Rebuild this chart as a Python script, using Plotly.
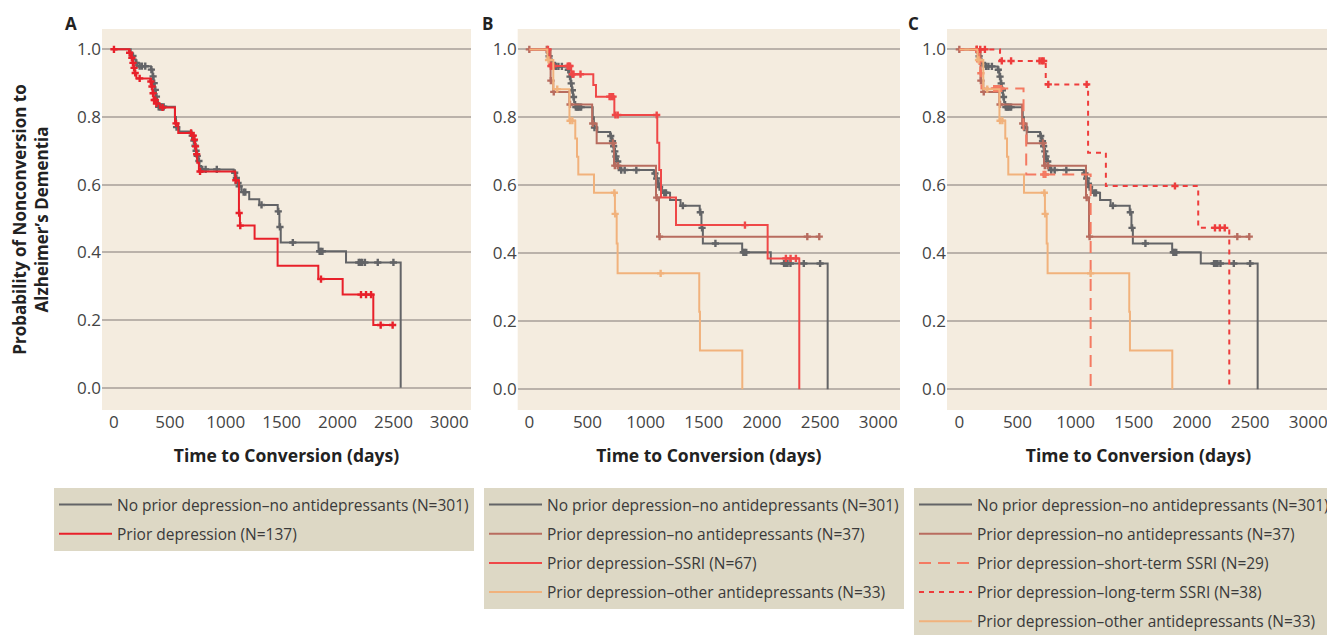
import numpy as np
import plotly.graph_objects as go

# ---------------- data ----------------
X_TICKS = [0, 500, 1000, 1500, 2000, 2500, 3000]
Y_TICKS = [0.0, 0.2, 0.4, 0.6, 0.8, 1.0]
PANEL_LABELS = ["A", "B", "C"]

# No prior depression - no antidepressants (N=301)
grey_t = [0, 150, 165, 180, 195, 210, 330, 345, 355, 365, 375, 385, 395, 545, 555, 585,
          695, 710, 720, 730, 740, 750, 765, 780, 1070, 1085, 1100, 1115, 1140, 1210, 1300,
          1465, 1480, 1492, 1830, 2076, 2565]
grey_s = [1.0, 0.99, 0.98, 0.97, 0.96, 0.95, 0.94, 0.92, 0.90, 0.88, 0.86, 0.845, 0.83, 0.80, 0.77, 0.757,
          0.745, 0.73, 0.715, 0.70, 0.685, 0.67, 0.655, 0.645, 0.635, 0.62, 0.605, 0.595, 0.578, 0.557, 0.540,
          0.521, 0.475, 0.429, 0.403, 0.37, 0.0]
grey_end = None
grey_censor = [170, 200, 230, 250, 280, 335, 350, 360, 370, 380, 400, 410, 420, 430, 445, 560, 700, 715,
               725, 735, 745, 760, 790, 820, 920, 1080, 1095, 1110, 1120, 1160, 1175, 1320, 1470, 1485,
               1600, 1840, 1850, 1865, 2190, 2205, 2220, 2245, 2360, 2500]

# Prior depression (N=137)
red_t = [0, 135, 155, 165, 175, 185, 200, 325, 335, 345, 355, 375, 410, 546, 575, 700, 715, 725, 735,
         745, 760, 1085, 1118, 1127, 1258, 1464, 1828, 2046, 2320]
red_s = [1.0, 0.99, 0.975, 0.96, 0.945, 0.93, 0.914, 0.905, 0.89, 0.87, 0.85, 0.84, 0.828, 0.781, 0.753,
         0.745, 0.733, 0.713, 0.69, 0.665, 0.639, 0.613, 0.516, 0.479, 0.44, 0.36, 0.321, 0.275, 0.185]
red_end = 2493
red_censor = [0, 140, 160, 170, 180, 190, 230, 330, 340, 350, 360, 370, 380, 435, 555, 690, 710, 720,
              730, 740, 770, 1090, 1120, 1130, 1852, 2210, 2255, 2300, 2386, 2493]

# Prior depression - no antidepressants (N=37)
brown_t = [0, 183, 206, 344, 540, 579, 728, 1089, 1115]
brown_s = [1.0, 0.908, 0.875, 0.838, 0.782, 0.724, 0.658, 0.564, 0.449]
brown_end = 2493
brown_censor = [0, 150, 185, 210, 350, 545, 720, 735, 760, 1095, 1120, 2390, 2493]

# Prior depression - SSRI (N=67)
ssri_t = [0, 172, 360, 550, 573, 731, 1100, 1117, 1132, 1261, 2049, 2321]
ssri_s = [1.0, 0.951, 0.927, 0.895, 0.861, 0.807, 0.725, 0.645, 0.564, 0.483, 0.385, 0.0]
ssri_end = None
ssri_censor = [160, 185, 195, 210, 330, 340, 350, 370, 380, 440, 690, 705, 720, 740, 760, 1095,
               1854, 2206, 2246, 2292]

# Prior depression - other antidepressants (N=33)
other_t = [0, 155, 206, 345, 395, 410, 421, 556, 736, 751, 759, 1461, 1467, 1831]
other_s = [1.0, 0.969, 0.883, 0.79, 0.738, 0.684, 0.632, 0.578, 0.516, 0.429, 0.341, 0.228, 0.114, 0.0]
other_end = None
other_censor = [165, 240, 350, 370, 731, 738, 1129]

# Prior depression - short-term SSRI (N=29)
short_t = [0, 170, 180, 190, 552, 575, 1129]
short_s = [1.0, 0.965, 0.93, 0.885, 0.76, 0.632, 0.0]
short_end = None
short_censor = [150, 175, 185, 300, 315, 330, 345, 360, 725, 740]

# Prior depression - long-term SSRI (N=38)
long_t = [0, 350, 743, 1107, 1260, 2054, 2321]
long_s = [1.0, 0.966, 0.897, 0.696, 0.598, 0.475, 0.0]
long_end = None
long_censor = [150, 180, 220, 365, 445, 690, 710, 725, 765, 1095, 1854, 2198, 2240, 2282]

# ---------------- styling ----------------
C_GREY = "#636467"
C_RED = "#e8202a"
C_BROWN = "#b86c5f"
C_SSRI = "#ef4848"
C_OTHER = "#f1b27c"
C_SHORT = "#f47a62"
C_LONG = "#ee3c3c"
PLOT_BG = "#f4ecdf"
LEG_BG = "#ddd8c5"
GRID = "#bab2aa"
TXT = "#3a3a3a"
FONT = "Open Sans"

OFF = 8  # page body margin of the exported html
W, H = 1335 - OFF, 635 - OFF


def fx(px):
    return (px - OFF) / W


def fy(py):
    return 1 - (py - OFF) / H


def step_xy(t, s, end):
    x = list(t)
    y = list(s)
    if end is not None:
        x.append(end)
        y.append(s[-1])
    return x, y


def censor_y(t, s, c):
    t = np.asarray(t, dtype=float)
    s = np.asarray(s, dtype=float)
    idx = np.searchsorted(t, np.asarray(c, dtype=float), side="right") - 1
    return s[idx]


fig = go.Figure()


def add_curve(panel, name, t, s, end, cens, color, dash, legend):
    xa = "x" if panel == 1 else f"x{panel}"
    ya = "y" if panel == 1 else f"y{panel}"
    x, y = step_xy(t, s, end)
    fig.add_trace(go.Scatter(
        x=x, y=y, mode="lines", line=dict(color=color, width=2, shape="hv", dash=dash),
        name=name, xaxis=xa, yaxis=ya, legend=legend, legendgroup=f"{legend}-{name}",
    ))
    fig.add_trace(go.Scatter(
        x=cens, y=censor_y(t, s, cens), mode="markers",
        marker=dict(symbol="cross", size=6, color=color, line=dict(width=0)),
        xaxis=xa, yaxis=ya, showlegend=False, hoverinfo="skip", legend=legend,
        legendgroup=f"{legend}-{name}",
    ))


N_GREY = "No prior depression–no antidepressants (N=301)"
N_RED = "Prior depression (N=137)"
N_BROWN = "Prior depression–no antidepressants (N=37)"
N_SSRI = "Prior depression–SSRI (N=67)"
N_OTHER = "Prior depression–other antidepressants (N=33)"
N_SHORT = "Prior depression–short-term SSRI (N=29)"
N_LONG = "Prior depression–long-term SSRI (N=38)"

# Panel A
add_curve(1, N_GREY, grey_t, grey_s, grey_end, grey_censor, C_GREY, "solid", "legend")
add_curve(1, N_RED, red_t, red_s, red_end, red_censor, C_RED, "solid", "legend")
# Panel B
add_curve(2, N_GREY, grey_t, grey_s, grey_end, grey_censor, C_GREY, "solid", "legend2")
add_curve(2, N_BROWN, brown_t, brown_s, brown_end, brown_censor, C_BROWN, "solid", "legend2")
add_curve(2, N_SSRI, ssri_t, ssri_s, ssri_end, ssri_censor, C_SSRI, "solid", "legend2")
add_curve(2, N_OTHER, other_t, other_s, other_end, other_censor, C_OTHER, "solid", "legend2")
# Panel C
add_curve(3, N_GREY, grey_t, grey_s, grey_end, grey_censor, C_GREY, "solid", "legend3")
add_curve(3, N_BROWN, brown_t, brown_s, brown_end, brown_censor, C_BROWN, "solid", "legend3")
add_curve(3, N_SHORT, short_t, short_s, short_end, short_censor, C_SHORT, "12px,7px", "legend3")
add_curve(3, N_LONG, long_t, long_s, long_end, long_censor, C_LONG, "5px,5px", "legend3")
add_curve(3, N_OTHER, other_t, other_s, other_end, other_censor, C_OTHER, "solid", "legend3")

# ---------------- layout ----------------
y_dom = [fy(410), fy(29)]
x_doms = [[fx(102), fx(471)], [fx(517.7), fx(900)], [fx(947), fx(1330)]]
x_ranges = [[-107, 3194], [-100, 3187], [-106, 3187]]
y_ranges = [[-0.066, 1.06], [-0.061, 1.06], [-0.061, 1.06]]

layout = dict(
    width=W, height=H,
    margin=dict(l=0, r=0, t=0, b=0, autoexpand=False),
    paper_bgcolor="white", plot_bgcolor=PLOT_BG,
    font=dict(family=FONT, color=TXT, size=16),
    showlegend=True,
)

for i in range(3):
    sx = "" if i == 0 else str(i + 1)
    layout[f"xaxis{sx}"] = dict(
        domain=x_doms[i], range=x_ranges[i], anchor=f"y{sx}",
        tickmode="array", tickvals=X_TICKS, ticktext=[str(v) for v in X_TICKS],
        showgrid=False, zeroline=False, showline=False, ticks="",
        tickfont=dict(size=17, color="#444444"),
        title=dict(text="<b>Time to Conversion (days)</b>", font=dict(size=17.5, color="#222222"), standoff=17),
        automargin=False,
    )
    layout[f"yaxis{sx}"] = dict(
        domain=y_dom, range=y_ranges[i], anchor=f"x{sx}",
        tickmode="array", tickvals=Y_TICKS, ticktext=[f"{v:.1f}" for v in Y_TICKS],
        showgrid=True, gridcolor=GRID, gridwidth=1.5, zeroline=False, showline=False, ticks="",
        tickfont=dict(size=17, color="#444444"),
        automargin=False,
    )
layout["yaxis"]["title"] = dict(
    text="<b>Probability of Nonconversion to<br>Alzheimer’s Dementia</b>",
    font=dict(size=17, color="#222222"), standoff=26,
)

leg_common = dict(
    bgcolor=LEG_BG, borderwidth=0, xanchor="left", yanchor="top",
    font=dict(size=15.5, color=TXT, family=FONT), itemwidth=53, tracegroupgap=6,
    traceorder="grouped",
)
layout["legend"] = dict(leg_common, x=fx(54), y=fy(488))
layout["legend2"] = dict(leg_common, x=fx(484), y=fy(488))
layout["legend3"] = dict(leg_common, x=fx(914), y=fy(488))

panel_x = [63, 480, 906]
layout["annotations"] = [
    dict(text=f"<b>{lab}</b>", x=fx(px), y=fy(24), xref="paper", yref="paper",
         xanchor="left", yanchor="middle", showarrow=False, font=dict(size=17, color="#222222"))
    for lab, px in zip(PANEL_LABELS, panel_x)
]

fig.update_layout(**layout)
fig.write_html("out.html")
